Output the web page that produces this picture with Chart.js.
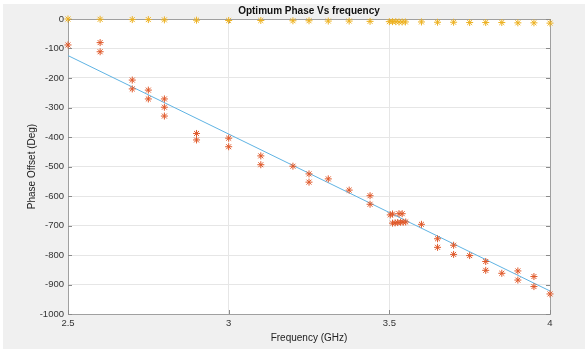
<!DOCTYPE html>
<html>
<head>
<meta charset="utf-8">
<script src="https://cdn.jsdelivr.net/npm/chart.js@4/dist/chart.umd.min.js"></script>
<style>
  html, body { margin: 0; padding: 0; background: #ffffff; }
  #wrap { width: 585px; height: 349px; position: relative; }
</style>
</head>
<body>
<div id="wrap"><canvas id="chart" width="585" height="349"></canvas></div>
<script>
// Measured phase offsets (two runs at most frequencies)
const measFreq = [2.5, 2.6, 2.6, 2.7, 2.7, 2.75, 2.75, 2.8, 2.8, 2.8, 2.9, 2.9,
  3.0, 3.0, 3.1, 3.1, 3.2, 3.25, 3.25, 3.31, 3.375, 3.44, 3.44,
  3.503, 3.51, 3.53, 3.54,
  3.51, 3.518, 3.526, 3.535, 3.543, 3.551,
  3.6, 3.65, 3.65, 3.7, 3.7, 3.75, 3.8, 3.8, 3.85, 3.9, 3.9, 3.95, 3.95, 4.0];
const measPhase = [-88, -80, -111, -207, -237, -241, -271, -271, -299, -329, -388, -410,
  -404, -433, -464, -494, -499, -525, -553, -542, -580, -599, -628,
  -664, -661, -660, -660,
  -692, -691, -690, -689, -689, -688,
  -696, -745, -774, -767, -798, -802, -822, -852, -862, -854, -885, -873, -907, -932];

// Optimum phase per frequency
const optFreq = [2.5, 2.6, 2.7, 2.75, 2.8, 2.9, 3.0, 3.1, 3.2, 3.25, 3.31, 3.375, 3.44,
  3.5, 3.51, 3.52, 3.53, 3.54, 3.55, 3.6, 3.65, 3.7, 3.75, 3.8, 3.85, 3.9, 3.95, 4.0];
const optPhase = [0, -1, -2, -2, -3, -4, -5, -5, -6, -6, -7, -7, -8,
  -9, -9, -9, -10, -10, -10, -10, -11, -11, -12, -12, -12, -13, -13, -14];

// Linear trend line end points
const fitFreq = [2.5, 4.0];
const fitPhase = [-124, -922];

// Axis ticks
const xTicks = [2.5, 3, 3.5, 4];
const yMin = -1000, yMax = 0, yStep = 100;

const toPts = (xs, ys) => xs.map((x, i) => ({ x: x, y: ys[i] }));

const FONT = "'Liberation Sans', Arial, Helvetica, sans-serif";
const TITLE = 'Optimum Phase Vs frequency';

const figurePlugin = {
  id: 'figure',
  beforeDraw(chart) {
    const { ctx, chartArea: a } = chart;
    ctx.save();
    ctx.fillStyle = '#ffffff';
    ctx.fillRect(0, 0, chart.width, chart.height);
    ctx.fillStyle = '#f0f0f0';
    ctx.fillRect(3, 4, chart.width - 3, chart.height - 4);
    ctx.fillStyle = '#ffffff';
    ctx.fillRect(a.left, a.top, a.right - a.left, a.bottom - a.top);
    ctx.restore();
  },
  beforeDatasetsDraw(chart) {
    const { ctx, chartArea: a, scales } = chart;
    ctx.save();
    ctx.strokeStyle = '#a0a0a0';
    ctx.lineWidth = 1;
    ctx.strokeRect(Math.round(a.left) + 0.5, Math.round(a.top) + 0.5,
      Math.round(a.right - a.left), Math.round(a.bottom - a.top));
    // inward tick marks on all four sides
    ctx.strokeStyle = '#8a8a8a';
    ctx.beginPath();
    const tl = 4;
    scales.y.ticks.forEach(t => {
      const y = Math.round(scales.y.getPixelForValue(t.value)) + 0.5;
      ctx.moveTo(a.left, y); ctx.lineTo(a.left + tl, y);
      ctx.moveTo(a.right, y); ctx.lineTo(a.right - tl, y);
    });
    scales.x.ticks.forEach(t => {
      const x = Math.round(scales.x.getPixelForValue(t.value)) + 0.5;
      ctx.moveTo(x, a.bottom); ctx.lineTo(x, a.bottom - tl);
      ctx.moveTo(x, a.top); ctx.lineTo(x, a.top + tl);
    });
    ctx.stroke();
    ctx.restore();
  },
  afterDraw(chart) {
    const { ctx, chartArea: a } = chart;
    ctx.save();
    ctx.fillStyle = '#111111';
    ctx.font = 'bold 10px ' + FONT;
    ctx.textAlign = 'center';
    ctx.textBaseline = 'middle';
    ctx.fillText(TITLE, (a.left + a.right) / 2, 11.5);
    ctx.restore();
  }
};

new Chart(document.getElementById('chart'), {
  type: 'scatter',
  data: {
    datasets: [
      {
        label: 'Measured',
        data: toPts(measFreq, measPhase),
        pointStyle: 'star',
        pointRadius: 3.5,
        borderColor: '#e0592a',
        backgroundColor: '#e0592a',
        borderWidth: 1,
        clip: false,
        order: 1
      },
      {
        label: 'Optimum',
        data: toPts(optFreq, optPhase),
        pointStyle: 'star',
        pointRadius: 3.5,
        borderColor: '#edb120',
        backgroundColor: '#edb120',
        borderWidth: 1,
        clip: false,
        order: 0
      },
      {
        label: 'Linear fit',
        type: 'line',
        data: toPts(fitFreq, fitPhase),
        borderColor: '#5fb3e3',
        borderWidth: 1,
        pointRadius: 0,
        fill: false,
        order: 2
      }
    ]
  },
  options: {
    responsive: false,
    animation: false,
    events: [],
    layout: { padding: { left: 3, top: 19, right: 35, bottom: 0 } },
    plugins: {
      legend: { display: false },
      tooltip: { enabled: false },
      title: { display: false }
    },
    scales: {
      x: {
        type: 'linear',
        min: xTicks[0],
        max: xTicks[xTicks.length - 1],
        afterBuildTicks: s => { s.ticks = xTicks.map(v => ({ value: v })); },
        ticks: {
          padding: 4,
          color: '#333333',
          font: { family: FONT, size: 9.5 },
          maxRotation: 0,
          callback: v => String(v)
        },
        grid: { color: '#e6e6e6', drawTicks: false },
        border: { display: false },
        title: {
          display: true,
          text: 'Frequency (GHz)',
          color: '#222222',
          font: { family: FONT, size: 10 },
          padding: { top: 0, bottom: 5 }
        },
        afterFit: s => { s.height = 35; }
      },
      y: {
        type: 'linear',
        min: yMin,
        max: yMax,
        ticks: {
          stepSize: yStep,
          padding: 4,
          color: '#333333',
          font: { family: FONT, size: 9.5 },
          callback: v => String(v)
        },
        grid: { color: '#e6e6e6', drawTicks: false },
        border: { display: false },
        title: {
          display: true,
          text: 'Phase Offset (Deg)',
          color: '#222222',
          font: { family: FONT, size: 10 },
          padding: { top: 23, bottom: 0 }
        },
        afterFit: s => { s.width = 65; }
      }
    }
  },
  plugins: [figurePlugin]
});
</script>
</body>
</html>
